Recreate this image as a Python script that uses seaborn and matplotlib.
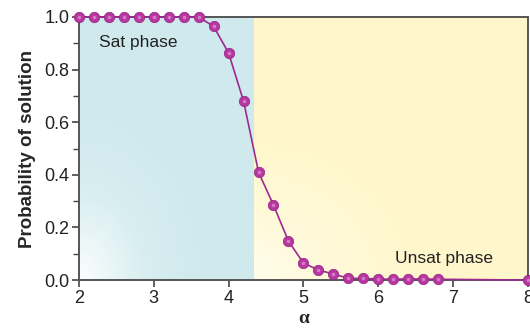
import numpy as np
import pandas as pd
import matplotlib
matplotlib.use("Agg")
import matplotlib.pyplot as plt
import seaborn as sns
from matplotlib.colors import LinearSegmentedColormap

# ---- data ----
alpha = [2.0, 2.2, 2.4, 2.6, 2.8, 3.0, 3.2, 3.4, 3.6, 3.8, 4.0, 4.2, 4.4, 4.6, 4.8,
         5.0, 5.2, 5.4, 5.6, 5.8, 6.0, 6.2, 6.4, 6.6, 6.8, 8.0]
prob = [1.0, 1.0, 1.0, 1.0, 1.0, 1.0, 1.0, 1.0, 1.0, 0.964, 0.863, 0.68, 0.41, 0.285, 0.148,
        0.065, 0.038, 0.023, 0.007, 0.006, 0.004, 0.003, 0.004, 0.004, 0.003, 0.0]
x_ticks = [2, 3, 4, 5, 6, 7, 8]
y_ticks = [0.0, 0.2, 0.4, 0.6, 0.8, 1.0]
threshold = 4.34
region_labels = ["Sat phase", "Unsat phase"]

df = pd.DataFrame({"alpha": alpha, "prob": prob})

sns.set_theme(style="white")
plt.rcParams['font.family'] = ['Liberation Sans', 'DejaVu Sans']

fig = plt.figure(figsize=(5.3, 3.33), dpi=100)
ax = fig.add_axes([0.149, 0.159, 0.847, 0.79])

# gradient backgrounds
yy, xx = np.mgrid[0:1:200j, 0:1:200j]
gb = np.clip(np.sqrt((xx / 1.0) ** 2 + (yy / 0.9) ** 2) / 0.75, 0, 1)
gy = np.clip(np.sqrt((xx / 1.0) ** 2 + (yy / 0.9) ** 2) / 0.6, 0, 1)
blue = LinearSegmentedColormap.from_list("b", ["#fbfdfd", "#d8eef1", "#cfe9ed"])
yellow = LinearSegmentedColormap.from_list("y", ["#fffcea", "#fff9d8", "#fff7cb"])
ax.imshow(gb, cmap=blue, origin="lower", extent=[2, threshold, 0, 1], aspect="auto",
          zorder=0, vmin=0, vmax=1)
ax.imshow(gy, cmap=yellow, origin="lower", extent=[threshold, 8, 0, 1], aspect="auto",
          zorder=0, vmin=0, vmax=1)

sns.lineplot(data=df, x="alpha", y="prob", ax=ax, color="#9c2a8f", lw=1.2,
             marker="o", markersize=7.5, markerfacecolor="#b8369f",
             markeredgecolor="#922384", markeredgewidth=0.5, clip_on=False, zorder=5)
# subtle highlight on spheres
ax.plot(df["alpha"], df["prob"], ls="none", marker="o", markersize=2.6,
        color="#d27cc4", markeredgewidth=0, clip_on=False, zorder=6)

ax.set_xlim(2, 8)
ax.set_ylim(0, 1)
ax.set_xticks(x_ticks)
ax.set_yticks(y_ticks)
ax.set_yticklabels([f"{v:.1f}" for v in y_ticks])
ax.set_yticks(np.arange(0.1, 1.0, 0.2), minor=True)
ax.tick_params(axis="both", which="major", direction="out", length=5, width=1.2,
               color="#444444", labelsize=13, labelcolor="#222222", pad=2,
               bottom=True, left=True)
ax.tick_params(axis="y", which="minor", direction="out", length=4, width=1.0,
               color="#444444", left=True)
for s in ax.spines.values():
    s.set_color("#555555")
    s.set_linewidth(1.4)
    s.set_zorder(4)

ax.set_xlabel("α", fontsize=14, fontweight="bold", family=["Liberation Serif", "DejaVu Serif"],
              labelpad=2)
ax.set_ylabel("Probability of solution", fontsize=13.5, fontweight="bold", labelpad=6)

ax.text(2.27, 0.885, region_labels[0], fontsize=12.5, color="#222222", zorder=3)
ax.text(7.53, 0.065, region_labels[1], fontsize=12.5, color="#222222", ha="right", zorder=3)

fig.savefig("out.png", dpi=100)
